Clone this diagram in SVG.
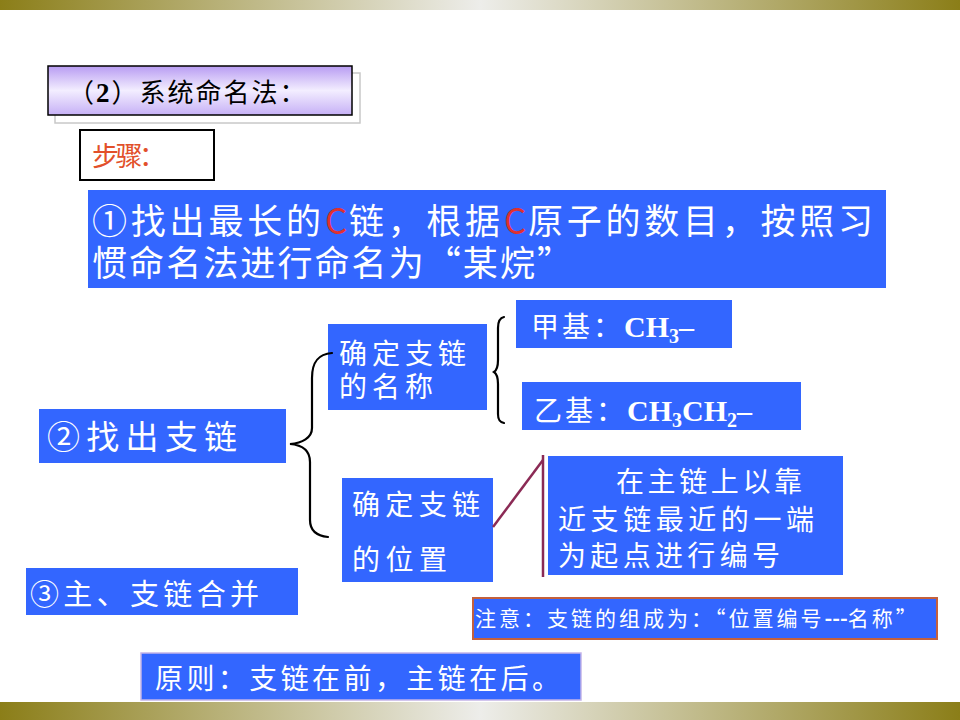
<svg xmlns="http://www.w3.org/2000/svg" width="960" height="720" viewBox="0 0 960 720">
<style>
.cjk{font-family:"Noto Sans CJK SC","Noto Sans",sans-serif;}
.wt{fill:#ffffff;}
.blue{fill:#3366ff;}
.tnr{font-family:"Liberation Serif","Noto Sans CJK SC",serif;font-weight:bold;}
.l1{font-size:35px;}
.red{fill:#e03030;}
.brace{fill:none;stroke:#000;stroke-width:2.2;stroke-linecap:round;}
.link{fill:none;stroke:#8b2a55;stroke-width:2.5;}
</style>
<defs>
<linearGradient id="bar" x1="0" y1="0" x2="1" y2="0">
<stop offset="0" stop-color="#8b7e18"/>
<stop offset="0.5" stop-color="#ededea"/>
<stop offset="1" stop-color="#8b7e18"/>
</linearGradient>
<linearGradient id="lav" x1="0" y1="0" x2="0" y2="1">
<stop offset="0" stop-color="#b89cf2"/>
<stop offset="0.5" stop-color="#f3eeff"/>
<stop offset="1" stop-color="#c6b0f6"/>
</linearGradient>
</defs>
<rect x="0" y="0" width="960" height="720" fill="#ffffff"/>
<rect x="0" y="0" width="960" height="10" fill="url(#bar)"/>
<rect x="0" y="702" width="960" height="18" fill="url(#bar)"/>

<g id="title">
<rect x="55" y="73" width="305" height="50" fill="#ffffff" stroke="#c8c8c8" stroke-width="1.5"/>
<rect x="48" y="66" width="304" height="49" fill="url(#lav)" stroke="#000" stroke-width="1.5"/>
<text x="68" y="102" class="cjk" font-size="26" fill="#000" letter-spacing="2">（<tspan class="tnr" font-size="27">2</tspan>）系统命名法：</text>
</g>

<g id="steps">
<rect x="80" y="130" width="134" height="50" fill="#ffffff" stroke="#000" stroke-width="2"/>
<text x="92" y="166" class="cjk" font-size="27" fill="#e2502a" textLength="74" lengthAdjust="spacing">步骤：</text>
</g>

<g id="step1">
<rect x="88" y="190" width="798" height="98" class="blue"/>
<text x="92" y="234" class="cjk wt l1" textLength="229" lengthAdjust="spacing">①找出最长的</text>
<text x="325" y="234" class="cjk red l1">C</text>
<text x="349" y="234" class="cjk wt l1" textLength="151" lengthAdjust="spacing">链，根据</text>
<text x="504" y="234" class="cjk red l1">C</text>
<text x="528" y="234" class="cjk wt l1" textLength="345" lengthAdjust="spacing">原子的数目，按照习</text>
<text x="92" y="276" class="cjk wt" font-size="35" textLength="480" lengthAdjust="spacing">惯命名法进行命名为“某烷”</text>
</g>

<g id="step2">
<rect x="39" y="409" width="247" height="54" class="blue"/>
<text x="47" y="449" class="cjk wt" font-size="33" textLength="190" lengthAdjust="spacing">②找出支链</text>
</g>

<g id="name">
<rect x="328" y="324" width="159" height="86" class="blue"/>
<text x="339" y="364" class="cjk wt" font-size="28" textLength="127" lengthAdjust="spacing">确定支链</text>
<text x="339" y="397" class="cjk wt" font-size="28" textLength="94" lengthAdjust="spacing">的名称</text>
</g>

<g id="methyl">
<rect x="516" y="300" width="216" height="48" class="blue"/>
<text x="531" y="337" class="cjk wt" font-size="28"><tspan letter-spacing="3">甲基：</tspan><tspan class="tnr" font-size="30">CH</tspan><tspan class="tnr" font-size="20" dy="6">3</tspan><tspan class="tnr" font-size="30" dy="-6">–</tspan></text>
</g>

<g id="ethyl">
<rect x="522" y="382" width="279" height="48" class="blue"/>
<text x="534" y="421" class="cjk wt" font-size="28"><tspan letter-spacing="3">乙基：</tspan><tspan class="tnr" font-size="30">CH</tspan><tspan class="tnr" font-size="20" dy="6">3</tspan><tspan class="tnr" font-size="30" dy="-6">CH</tspan><tspan class="tnr" font-size="20" dy="6">2</tspan><tspan class="tnr" font-size="30" dy="-6">–</tspan></text>
</g>

<g id="position">
<rect x="342" y="478" width="151" height="104" class="blue"/>
<text x="352" y="515" class="cjk wt" font-size="28" textLength="128" lengthAdjust="spacing">确定支链</text>
<text x="352" y="570" class="cjk wt" font-size="28" textLength="95" lengthAdjust="spacing">的位置</text>
</g>

<g id="numbering">
<rect x="548" y="456" width="295" height="119" class="blue"/>
<text x="616" y="492" class="cjk wt" font-size="28" textLength="186" lengthAdjust="spacing">在主链上以靠</text>
<text x="558" y="530" class="cjk wt" font-size="28" textLength="256" lengthAdjust="spacing">近支链最近的一端</text>
<text x="558" y="566" class="cjk wt" font-size="28" textLength="222" lengthAdjust="spacing">为起点进行编号</text>
</g>

<g id="step3">
<rect x="26" y="568" width="272" height="47" class="blue"/>
<text x="30" y="605" class="cjk wt" font-size="29" textLength="229" lengthAdjust="spacing">③主、支链合并</text>
</g>

<g id="note">
<rect x="473" y="598" width="464" height="41" class="blue" stroke="#c4603c" stroke-width="2"/>
<text x="475" y="626" class="cjk wt" font-size="21" letter-spacing="3">注意：支链的组成为：“位置编号<tspan font-weight="bold" letter-spacing="0">---</tspan>名称”</text>
</g>

<g id="principle">
<rect x="141" y="653" width="440" height="47" class="blue" stroke="#c4b4e8" stroke-width="1.5"/>
<text x="155" y="689" class="cjk wt" font-size="28" textLength="405" lengthAdjust="spacing">原则：支链在前，主链在后。</text>
</g>

<g id="connectors">
<path class="brace" d="M332,353 C318,354 312,362 312,378 L312,428 C312,438 302,443 290,444 C302,445 310,450 310,462 L310,520 C310,532 318,536 328,537"/>
<path class="brace" d="M504,317 C499,318 498,322 498,328 L498,360 C498,366 497,370 494,372 C497,374 498,378 498,384 L498,414 C498,419 499,422 504,423"/>
<line class="link" x1="493" y1="527" x2="543" y2="460"/>
<line class="link" x1="543" y1="455" x2="543" y2="577"/>
</g>
</svg>
